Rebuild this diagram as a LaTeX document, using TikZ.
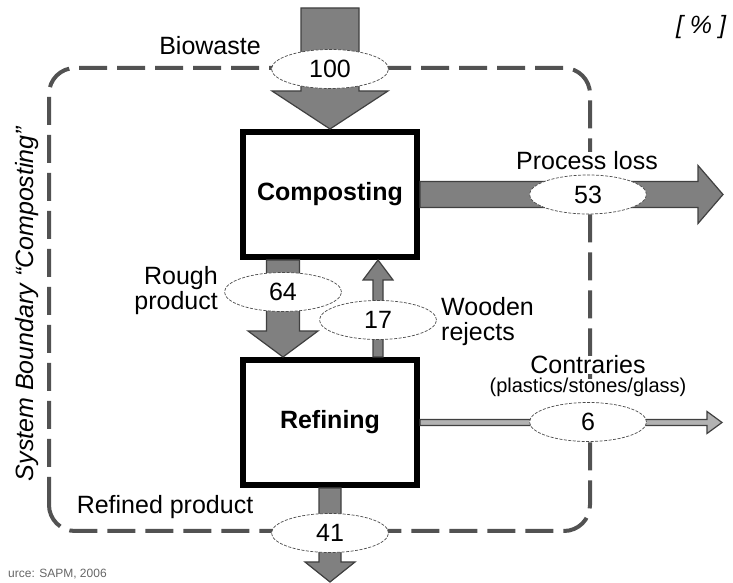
\documentclass[tikz,border=0pt]{standalone}
\usepackage{fontspec}
\setmainfont{Liberation Sans}
\usetikzlibrary{shapes.geometric,calc,positioning}

\newcommand{\lblsize}{\fontsize{25}{25}\selectfont}

\tikzset{
  procbox/.style={draw=black, line width=6pt, fill=white, minimum width=174pt, minimum height=125pt, inner sep=0pt, font=\lblsize\bfseries},
  valueell/.style={ellipse, draw=black!70, fill=white, line width=0.7pt, dash pattern=on 3pt off 1.5pt, minimum width=117pt, minimum height=39pt, inner sep=0pt},
  flow/.style={fill=black!50, draw=black!75, line width=1.2pt, line join=miter},
  boundary/.style={draw=black!68, line width=4pt, dash pattern=on 28pt off 10pt, rounded corners=26pt},
  lbl/.style={inner sep=0pt},
}

% fat arrow: [style] start, tip, half shaft, half head, head length
\newcommand{\flowarrow}[6][]{%
  \coordinate (fa-base) at ($#3!#6!#2$);
  \draw[flow,#1] ($#2!#4!90:#3$) -- ($(fa-base)!#4!90:#3$) -- ($(fa-base)!#5!90:#3$)
    -- #3 -- ($(fa-base)!#5!-90:#3$) -- ($(fa-base)!#4!-90:#3$) -- ($#2!#4!-90:#3$) -- cycle;
}

\begin{document}
\begin{tikzpicture}[x=1pt,y=1pt,font=\lblsize]
\useasboundingbox (0,0) rectangle (733,583);

% system boundary
\draw[boundary] (49,52) rectangle (590,515);
\node[lbl, rotate=90, font=\lblsize\itshape] (sysname) at (27,279) {System Boundary “Composting”};
\node[lbl, anchor=base, font=\lblsize\itshape] (unit) at (701,549) {[ \% ]};

% process boxes
\node[procbox] (compost) at (330,388.5) {Composting};
\node[procbox, below=97pt of compost] (refine) {Refining};

% flow ends
\coordinate (bio-in) at (330,575);
\coordinate (loss-out) at (723,388.5);
\coordinate (rough-top) at ($(compost.south)+(-47,0)$);
\coordinate (rough-bot) at ($(refine.north)+(-47,0)$);
\coordinate (wood-bot) at ($(refine.north)+(48,0)$);
\coordinate (wood-top) at ($(compost.south)+(48,0)$);
\coordinate (contr-out) at (722,160.5);
\coordinate (prod-out) at (330,1);

% flows
\flowarrow{(bio-in)}{(compost.north)}{29pt}{58pt}{38pt}
\flowarrow{(compost.east)}{(loss-out)}{13pt}{29pt}{25pt}
\flowarrow{(rough-top)}{(rough-bot)}{16.5pt}{35pt}{26pt}
\flowarrow{(wood-bot)}{(wood-top)}{5pt}{15pt}{20pt}
\flowarrow[fill=black!30]{(refine.east)}{(contr-out)}{3pt}{11pt}{15pt}
\flowarrow{(refine.south)}{(prod-out)}{11pt}{25pt}{20pt}

% values
\node[valueell] (v100) at (330,514) {100};
\node[valueell] (v53) at (588,388.5) {53};
\node[valueell] (v64) at (283,291) {64};
\node[valueell] (v17) at (378,263) {17};
\node[valueell] (v6) at (588,161) {6};
\node[valueell] (v41) at (330,50) {41};

% flow names
\node[lbl, anchor=base] (biolbl) at (210,528) {Biowaste};
\node[lbl, anchor=base, fill=white] (losslbl) at (587,413) {Process loss};
\node[lbl, anchor=east, align=right] (roughlbl) at (218,292) {Rough\\product};
\node[lbl, anchor=west, align=left] (woodlbl) at (441,261) {Wooden\\rejects};
\node[lbl, anchor=base, fill=white] (contrlbl) at (588,209) {Contraries};
\node[lbl, anchor=base, fill=white, font=\fontsize{20}{20}\selectfont] (contrsub) at (588,190) {(plastics/stones/glass)};
\node[lbl, anchor=base] (prodlbl) at (165,69.5) {Refined product};

\node[lbl, anchor=base west, text=black!60, font=\fontsize{12}{12}\selectfont] (src) at (8,5) {urce: SAPM, 2006};
\end{tikzpicture}
\end{document}
